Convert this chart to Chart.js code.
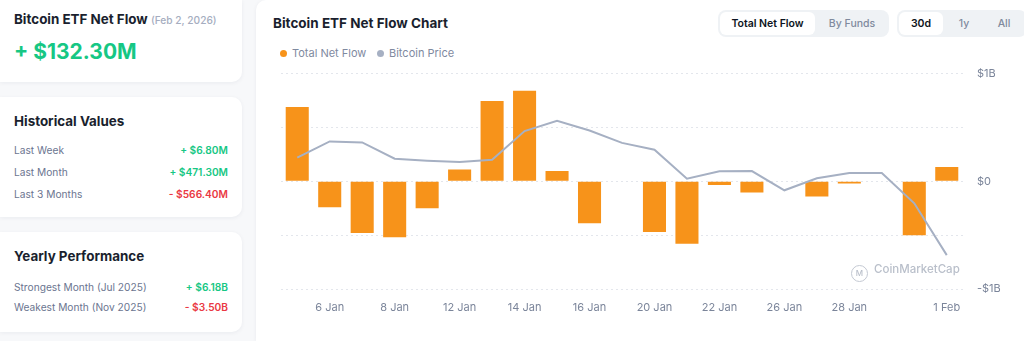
<!DOCTYPE html>
<html>
<head>
<meta charset="utf-8">
<script src="https://cdn.jsdelivr.net/npm/chart.js@4.4.1/dist/chart.umd.min.js"></script>
<style>
  body { margin: 0; width: 1024px; height: 341px; background: #f7f8fa; font-family: Inter, "Noto Sans", sans-serif; position: relative; overflow: hidden; color: #0d1421; }
  .card { position: absolute; background: #fff; border-radius: 10px; box-shadow: 0 1px 4px rgba(20,30,60,0.06); }
  .ttl { position: absolute; font-weight: 700; color: #1a1f2e; }
  .row { position: absolute; left: 14px; right: 14px; font-size: 10.2px; color: #6b7590; display: flex; justify-content: space-between; }
  .up { color: #16c784; font-weight: 600; }
  .down { color: #ea3943; font-weight: 600; }
  .seg { position: absolute; top: 10px; height: 27px; background: #eff2f5; border-radius: 8px; }
  .seg span { position: absolute; top: 2px; height: 23px; line-height: 23px; font-size: 10.5px; text-align: center; color: #808a9d; font-weight: 500; }
  .seg span.on { background: #fff; border-radius: 6px; color: #0d1421; font-weight: 600; }
  .leg { position: absolute; top: 46px; font-size: 11px; color: #7f8a9f; }
  .dot { display: inline-block; width: 7px; height: 7px; border-radius: 50%; margin-right: 5px; vertical-align: 0px; }
  #wrap { position: absolute; left: 270px; top: 53px; width: 754px; height: 272px; }
  .wm { position: absolute; left: 851px; top: 262px; font-size: 11.5px; color: #b9bfca; font-weight: 500; }
  .wm i { display: inline-block; width: 15px; height: 15px; border: 1.5px solid #c3c8d2; border-radius: 50%; font-style: normal; font-size: 8px; line-height: 15px; text-align: center; margin-right: 6px; vertical-align: -3px; }
</style>
</head>
<body>
<div class="card" style="left:0;top:0;width:242px;height:82px;border-radius:0 0 10px 0;">
  <div class="ttl" style="left:14px;top:11px;font-size:13.4px;">Bitcoin ETF Net Flow <span style="font-size:10.2px;color:#a5adc0;font-weight:500;">(Feb 2, 2026)</span></div>
  <div style="position:absolute;left:14px;top:39px;font-size:21px;font-weight:700;color:#16c784;">+ $132.30M</div>
</div>
<div class="card" style="left:0;top:97px;width:242px;height:120px;border-radius:0 10px 10px 0;">
  <div class="ttl" style="left:14px;top:16px;font-size:13.4px;">Historical Values</div>
  <div class="row" style="top:47px;"><span>Last Week</span><span class="up">+ $6.80M</span></div>
  <div class="row" style="top:69px;"><span>Last Month</span><span class="up">+ $471.30M</span></div>
  <div class="row" style="top:91px;"><span>Last 3 Months</span><span class="down">- $566.40M</span></div>
</div>
<div class="card" style="left:0;top:232px;width:242px;height:100px;border-radius:0 10px 10px 0;">
  <div class="ttl" style="left:14px;top:16px;font-size:13.4px;">Yearly Performance</div>
  <div class="row" style="top:49px;"><span>Strongest Month (Jul 2025)</span><span class="up">+ $6.18B</span></div>
  <div class="row" style="top:69px;"><span>Weakest Month (Nov 2025)</span><span class="down">- $3.50B</span></div>
</div>
<div class="card" style="left:256px;top:0;width:780px;height:341px;border-radius:10px 0 0 0;">
  <div class="ttl" style="left:17px;top:15px;font-size:13.5px;">Bitcoin ETF Net Flow Chart</div>
</div>
<div class="leg" style="left:280px;"><span class="dot" style="background:#f7931a;"></span>Total Net Flow</div>
<div class="leg" style="left:377px;"><span class="dot" style="background:#a6b0c3;"></span>Bitcoin Price</div>
<div class="seg" style="left:718px;width:171px;">
  <span class="on" style="left:2px;width:95px;">Total Net Flow</span>
  <span style="left:100px;width:68px;">By Funds</span>
</div>
<div class="seg" style="left:897px;width:130px;">
  <span class="on" style="left:2px;width:44px;">30d</span>
  <span style="left:52px;width:30px;">1y</span>
  <span style="left:92px;width:30px;">All</span>
</div>
<div id="wrap"><canvas id="flow"></canvas></div>
<div class="wm"><i>M</i>CoinMarketCap</div>

<script>
var days = ['5 Jan', '6 Jan', '7 Jan', '8 Jan', '9 Jan', '12 Jan', '13 Jan', '14 Jan', '15 Jan', '16 Jan',
            '19 Jan', '20 Jan', '21 Jan', '22 Jan', '23 Jan', '26 Jan', '27 Jan', '28 Jan', '29 Jan', '30 Jan', '1 Feb'];
var shownTicks = ['6 Jan', '8 Jan', '12 Jan', '14 Jan', '16 Jan', '20 Jan', '22 Jan', '26 Jan', '28 Jan', '1 Feb'];
// net flow in $B
var netFlow = [0.69, -0.24, -0.48, -0.52, -0.25, 0.11, 0.745, 0.84, 0.095, -0.39,
               null, -0.47, -0.58, -0.035, -0.105, 0.005, -0.14, -0.02, null, -0.50, 0.1323];
var btcPrice = [88290, 90550, 90420, 88150, 87870, 87680, 88010, 91990, 93430, 92080,
                90350, 89400, 85370, 86390, 86420, 83750, 85420, 86150, 86150, 81940, 74720];
var flowTicks = [-1, 0, 1];

Chart.defaults.font.family = 'Inter, "Noto Sans", sans-serif';

var ctx = document.getElementById('flow');
var flowChart = new Chart(ctx, {
  type: 'bar',
  data: {
    labels: days,
    datasets: [{
      type: 'line',
      label: 'Bitcoin Price',
      data: btcPrice,
      yAxisID: 'price',
      borderColor: '#a6b0c3',
      borderWidth: 2,
      pointRadius: 0,
      tension: 0,
      order: 0
    }, {
      label: 'Total Net Flow',
      data: netFlow,
      yAxisID: 'y',
      backgroundColor: '#f7931a',
      borderWidth: 0,
      categoryPercentage: 0.71,
      barPercentage: 1,
      order: 1
    }]
  },
  options: {
    responsive: true,
    maintainAspectRatio: false,
    animation: false,
    layout: { padding: { top: 6, left: 11, right: 0, bottom: 0 } },
    plugins: { legend: { display: false }, tooltip: { enabled: false } },
    scales: {
      x: {
        grid: { display: false, drawTicks: false },
        border: { display: false },
        afterFit: function (s) { s.height = 36; },
        ticks: {
          autoSkip: false,
          maxRotation: 0,
          padding: 12,
          color: '#7b859a',
          font: { size: 11 },
          callback: function (v, i) {
            var l = days[i];
            return shownTicks.indexOf(l) >= 0 ? l : '';
          }
        }
      },
      y: {
        position: 'right',
        min: -1,
        max: 1,
        afterBuildTicks: function (s) {
          s.ticks = [-1, -0.5, 0, 0.5, 1].map(function (v) { return { value: v }; });
        },
        afterFit: function (s) { s.width = 61; },
        grid: { color: '#e3e6ec', drawTicks: false, lineWidth: 1 },
        border: { display: false, dash: [2, 3] },
        ticks: {
          padding: 14,
          color: '#7b859a',
          font: { size: 11 },
          callback: function (v) {
            if (flowTicks.indexOf(v) < 0) return '';
            return v === 0 ? '$0' : (v < 0 ? '-$' : '$') + Math.abs(v) + 'B';
          }
        }
      },
      price: {
        display: false,
        min: 70000,
        max: 100000
      }
    }
  }
});
</script>
</body>
</html>
